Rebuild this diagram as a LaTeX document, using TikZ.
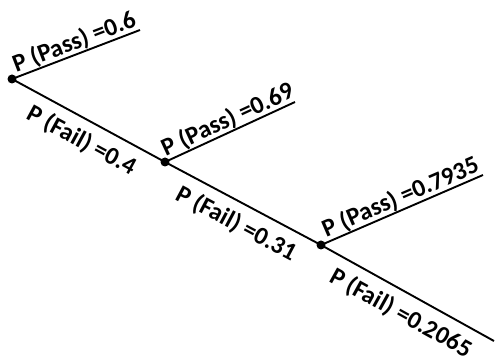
\documentclass[tikz,border=0pt]{standalone}
\usepackage{fontspec}
\setmainfont{Carlito}
\usetikzlibrary{calc}

\tikzset{
  branch/.style={line width=1.9pt},
  dot/.style={circle, fill=black, inner sep=0pt, minimum size=9pt},
  lbl/.style={font=\bfseries\fontsize{25}{29}\selectfont},
  passlbl/.style={lbl, pos=0.52, above, sloped, inner sep=0pt},
  faillbl/.style={lbl, pos=0.52, below, sloped, inner sep=9pt},
}

\begin{document}
\begin{tikzpicture}[x=1pt, y=-1pt]
  \useasboundingbox (0,0) rectangle (496,363);
  % stages along the fail line
  \node[dot] (n1) at (12,79) {};
  \node[dot] (n2) at (165,162) {};
  \node[dot] (n3) at (321,245) {};
  \coordinate (e) at (494,341);
  % pass branch ends
  \coordinate (p1) at (140,30);
  \coordinate (p2) at (295,102);
  \coordinate (p3) at (483,175);

  \draw[branch] (n1.center) -- (p1) node[passlbl] (s1) {P (Pass) =0.6};
  \draw[branch] (n2.center) -- (p2) node[passlbl] (s2) {P (Pass) =0.69};
  \draw[branch] (n3.center) -- (p3) node[passlbl] (s3) {P (Pass) =0.7935};

  \draw[branch] (n1.center) -- (n2.center) node[faillbl] (f1) {P (Fail) =0.4};
  \draw[branch] (n2.center) -- (n3.center) node[faillbl] (f2) {P (Fail) =0.31};
  \draw[branch] (n3.center) -- (e) node[faillbl] (f3) {P (Fail) =0.2065};
\end{tikzpicture}
\end{document}
